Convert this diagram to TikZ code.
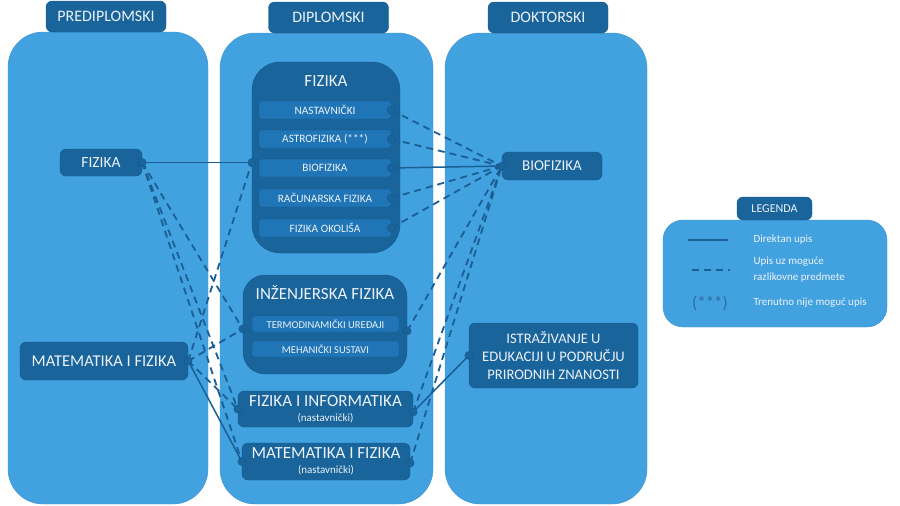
\documentclass[tikz,border=0pt]{standalone}
\usepackage{fontspec}
\setmainfont{Carlito}
\usepackage{tikz}
\usetikzlibrary{calc}
\newcommand\txtsize[2]{\fontsize{#1}{#2}\selectfont}
\definecolor{stage_blue}{RGB}{66,162,224}
\definecolor{stage_edge}{RGB}{60,145,205}
\definecolor{prog_blue}{RGB}{25,100,155}
\definecolor{prog_edge}{RGB}{22,88,140}
\definecolor{sub_blue}{RGB}{31,117,181}
\definecolor{link_blue}{RGB}{26,94,148}
\definecolor{star_blue}{RGB}{45,105,160}
\definecolor{text_light}{RGB}{236,242,248}

\begin{document}
\begin{tikzpicture}[x=1pt,y=-1pt]
    \tikzstyle{stage}=[draw=stage_edge, fill=stage_blue, rounded corners=35pt, inner sep=0pt, thin]
    \tikzstyle{stagehead}=[draw=prog_edge, fill=prog_blue, rounded corners=6pt, inner sep=0pt, minimum width=120pt, minimum height=31pt, text=text_light, font=\txtsize{16}{18}]
    \tikzstyle{prog}=[draw=prog_edge, fill=prog_blue, rounded corners=6pt, inner sep=0pt, text=text_light, align=center]
    \tikzstyle{sub}=[draw=prog_edge, fill=sub_blue, rounded corners=2pt, inner sep=0pt, text=text_light, font=\txtsize{11.3}{13}]
    \tikzstyle{legtext}=[anchor=west, text=text_light, align=left, font=\txtsize{11}{16}]
    \tikzstyle{joint}=[circle, fill=prog_blue, draw=prog_edge, inner sep=0pt, minimum size=8pt]
    \tikzstyle{direct}=[draw=link_blue, line width=1.5pt]
    \tikzstyle{maybe}=[draw=link_blue, line width=1.8pt, dash pattern=on 7pt off 5pt]

    \useasboundingbox (0,0) rectangle (900,506);

    % columns
    \node[stage, minimum width=200pt, minimum height=472pt] (pre) at (108,268) {};
    \node[stage, minimum width=213pt, minimum height=471pt] (dip) at (326.5,268.5) {};
    \node[stage, minimum width=202pt, minimum height=471pt] (dok) at (546,268.5) {};
    \node[stagehead] (prehead) at (106,16.5) {PREDIPLOMSKI};
    \node[stagehead] (diphead) at (328.5,17.5) {DIPLOMSKI};
    \node[stagehead] (dokhead) at (548,17.5) {DOKTORSKI};

    % prediplomski
    \node[prog, minimum width=82pt, minimum height=27pt, font=\txtsize{15.5}{18}] (pfiz) at (101,162.5) {FIZIKA};
    \node[prog, minimum width=168pt, minimum height=38pt, font=\txtsize{16.5}{18}] (pmat) at (104,361) {MATEMATIKA I FIZIKA};

    % diplomski
    \node[prog, minimum width=148pt, minimum height=191pt, rounded corners=28pt] (fizbox) at (326,157.5) {};
    \node[text=text_light, font=\txtsize{17}{20}] (fiztitle) at (326,81) {FIZIKA};
    \node[sub, minimum width=132pt, minimum height=18pt] (nast) at (325,110) {NASTAVNIČKI};
    \node[sub, minimum width=132pt, minimum height=18pt] (astro) at (325,139) {ASTROFIZIKA (***)};
    \node[sub, minimum width=132pt, minimum height=18pt] (bio) at (325,168) {BIOFIZIKA};
    \node[sub, minimum width=132pt, minimum height=18pt] (rac) at (325,198) {RAČUNARSKA FIZIKA};
    \node[sub, minimum width=132pt, minimum height=18pt] (okol) at (325,228) {FIZIKA OKOLIŠA};

    \node[prog, minimum width=164pt, minimum height=99pt, rounded corners=22pt] (inzbox) at (325,324.5) {};
    \node[text=text_light, font=\txtsize{17}{20}] (inztitle) at (325,293) {INŽENJERSKA FIZIKA};
    \node[sub, minimum width=147pt, minimum height=16pt, font=\txtsize{10.5}{12}] (termo) at (325.5,324) {TERMODINAMIČKI UREĐAJI};
    \node[sub, minimum width=147pt, minimum height=16pt, font=\txtsize{10.5}{12}] (meh) at (325.5,349) {MEHANIČKI SUSTAVI};

    \node[prog, minimum width=175pt, minimum height=36pt] (finf) at (325.5,409)
        {\txtsize{17}{18}FIZIKA I INFORMATIKA\\[3pt]\txtsize{11}{13}(nastavnički)};
    \node[prog, minimum width=168pt, minimum height=37pt] (dmat) at (326,461.5)
        {\txtsize{17}{18}MATEMATIKA I FIZIKA\\[3pt]\txtsize{11}{13}(nastavnički)};

    % doktorski
    \node[prog, minimum width=100pt, minimum height=28pt, font=\txtsize{15}{18}] (dbio) at (552,166) {BIOFIZIKA};
    \node[prog, minimum width=169pt, minimum height=65pt, font=\txtsize{14.6}{18}] (istr) at (553.5,355.5)
        {ISTRAŽIVANJE U\\EDUKACIJI U PODRUČJU\\PRIRODNIH ZNANOSTI};

    % legenda
    \node[stage, minimum width=224pt, minimum height=107pt, rounded corners=20pt] (legbox) at (775,273.5) {};
    \node[prog, minimum width=75pt, minimum height=23pt, font=\txtsize{12}{14}] (leghead) at (774.5,208.5) {LEGENDA};
    \coordinate (ls1) at (688,240);
    \coordinate (le1) at (728,240);
    \coordinate (ls2) at (692,270);
    \coordinate (le2) at (730,270);
    \draw[direct] (ls1) -- (le1);
    \draw[maybe] (ls2) -- (le2);
    \node[legtext] (lt1) at (750,240) {Direktan upis};
    \node[legtext] (lt2) at (750,270) {Upis uz moguće\\razlikovne predmete};
    \node[text=star_blue, font=\txtsize{17}{19}] (lstar) at (710,303) {(***)};
    \node[legtext] (lt3) at (750,303) {Trenutno nije moguć upis};

    % spojne tocke
    \coordinate (j_pfiz) at (pfiz.east);
    \coordinate (j_pmat) at (pmat.east);
    \coordinate (j_fizw) at (fizbox.west |- pfiz.east);
    \coordinate (j_nast) at (nast.east);
    \coordinate (j_astro) at (astro.east);
    \coordinate (j_bio) at (bio.east);
    \coordinate (j_rac) at (rac.east);
    \coordinate (j_okol) at (okol.east);
    \coordinate (j_inzw) at ($(inzbox.west |- termo.east)+(0,5)$);
    \coordinate (j_inze) at ($(inzbox.east |- termo.east)+(0,7)$);
    \coordinate (j_infw) at (finf.west);
    \coordinate (j_infe) at ($(finf.east)+(0,3)$);
    \coordinate (j_matw) at (dmat.west);
    \coordinate (j_mate) at ($(dmat.east)+(0,1.5)$);
    \coordinate (j_dbio) at (dbio.west);
    \coordinate (j_istr) at (istr.west);

    \path
     (j_pfiz) edge[direct] (j_fizw)
     (j_pfiz) edge[maybe] (j_inzw)
     (j_pfiz) edge[maybe] (j_infw)
     (j_pfiz) edge[maybe] (j_matw)
     (j_pmat) edge[maybe] (j_fizw)
     (j_pmat) edge[maybe] (j_inzw)
     (j_pmat) edge[maybe] (j_infw)
     (j_pmat) edge[direct] (j_matw)
     (j_nast) edge[maybe] (j_dbio)
     (j_astro) edge[maybe] (j_dbio)
     (j_bio) edge[direct] (j_dbio)
     (j_rac) edge[maybe] (j_dbio)
     (j_okol) edge[maybe] (j_dbio)
     (j_inze) edge[maybe] (j_dbio)
     (j_infe) edge[maybe] (j_dbio)
     (j_mate) edge[maybe] (j_dbio)
     (j_infe) edge[direct] (j_istr)
     ;

    \foreach \j in {pfiz,pmat,fizw,nast,astro,bio,rac,okol,inzw,inze,infw,infe,matw,mate,dbio,istr}
      \node[joint] (dot_\j) at (j_\j) {};
\end{tikzpicture}
\end{document}
